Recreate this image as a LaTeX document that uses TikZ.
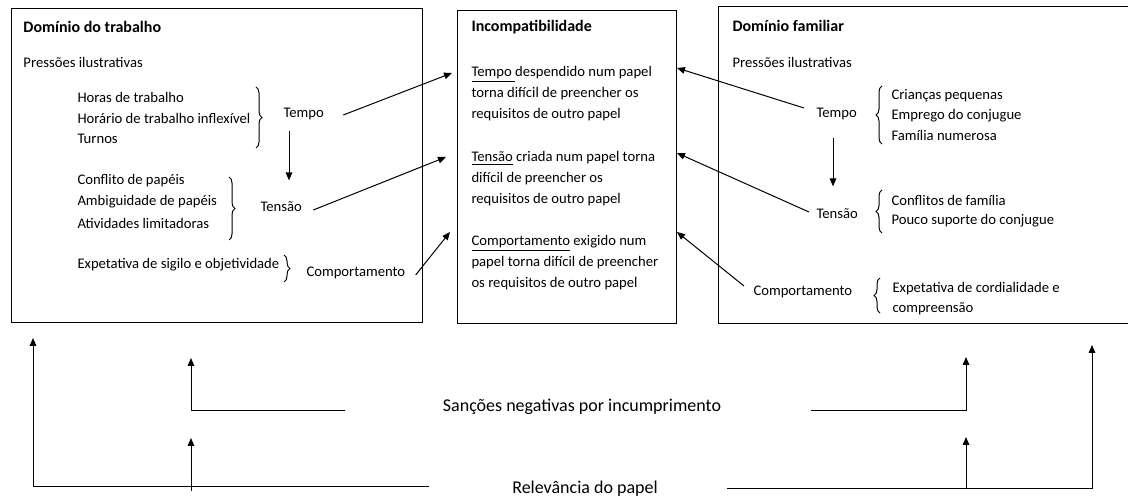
\documentclass[tikz,border=0pt]{standalone}
\usepackage{fontspec}
\setmainfont{Carlito}
\usetikzlibrary{arrows.meta,decorations.pathreplacing,calc}

\tikzset{every picture/.style={line width=0.75pt}}
\tikzset{
  arr/.style={-{Triangle[length=6pt,width=5pt]}},
  brcR/.style={decorate,decoration={brace,amplitude=4.5pt}},
  txt/.style={anchor=west,inner sep=0.75pt,align=left,font=\fontsize{11}{15.75}\selectfont},
  ttl/.style={anchor=west,inner sep=0.75pt,font=\fontsize{12}{14}\selectfont\bfseries},
  big/.style={inner sep=0.75pt,font=\fontsize{13.5}{16}\selectfont},
}

\begin{document}
\begin{tikzpicture}[x=0.75pt,y=0.75pt,yscale=-1,xscale=1]
\useasboundingbox (0,0) rectangle (1128,498);

%Shape: Rectangle
\draw (11,9) rectangle (422,323);
%Shape: Rectangle
\draw (457,11) rectangle (676,324);
%Shape: Rectangle (cut at the right edge)
\draw (1128,7) -- (718,7) -- (718,324) -- (1128,324);

% Text Node
\draw (22,27) node [ttl] (wTitle) {Domínio do trabalho};
\draw (22,62) node [txt] (wPres) {Pressões ilustrativas};
\draw (76,97) node [txt] (wHoras) {Horas de trabalho};
\draw (76,118) node [txt] (wHorario) {Horário de trabalho inflexível};
\draw (76,139) node [txt] (wTurnos) {Turnos};
\draw (282,114) node [txt] (wTempo) {Tempo};
\draw (76,181) node [txt] (wConfl) {Conflito de papéis};
\draw (76,202) node [txt] (wAmbig) {Ambiguidade de papéis};
\draw (76,223) node [txt] (wAtiv) {Atividades limitadoras};
\draw (259,207) node [txt] (wTensao) {Tensão};
\draw (76,265) node [txt] (wSigilo) {Expetativa de sigilo e objetividade};
\draw (305,273) node [txt] (wComp) {Comportamento};

% Text Node
\draw (470,27) node [ttl] (iTitle) {Incompatibilidade};
\draw (470,94) node [txt] (iTempo) {\underline{Tempo\ }despendido num papel\\torna difícil de preencher os\\requisitos de outro papel};
\draw (470,179) node [txt] (iTensao) {\underline{Tensão} criada num papel torna\\difícil de preencher os\\requisitos de outro papel};
\draw (470,263) node [txt] (iComp) {\underline{Comportamento} exigido num\\papel torna difícil de preencher\\os requisitos de outro papel};

% Text Node
\draw (731,26) node [ttl] (fTitle) {Domínio familiar};
\draw (731,62) node [txt] (fPres) {Pressões ilustrativas};
\draw (815,114) node [txt] (fTempo) {Tempo};
\draw (890,96) node [txt] (fCriancas) {Crianças pequenas};
\draw (890,116) node [txt] (fEmprego) {Emprego do conjugue};
\draw (890,135) node [txt] (fFamilia) {Família numerosa};
\draw (815,214) node [txt] (fTensao) {Tensão};
\draw (890,200) node [txt] (fConfl) {Conflitos de família};
\draw (890,221) node [txt] (fSuporte) {Pouco suporte do conjugue};
\draw (752,292) node [txt] (fComp) {Comportamento};
\draw (891,289) node [txt] (fCordial) {Expetativa de cordialidade e};
\draw (891,309) node [txt] (fCompr) {compreensão};

% Text Node
\draw (582,407) node [big] (sanc) {Sanções negativas por incumprimento};
\draw (585,489) node [big] (relev) {Relevância do papel};

%Braces
\draw [brcR] (256,87) -- (256,148);
\draw [brcR] (229,177) -- (229,240);
\draw [brcR] (284,255) -- (284,282);
\draw [brcR] (882,144) -- (882,86);
\draw [brcR] (882,233) -- (882,190);
\draw [brcR] (880,313) -- (880,278);

%Arrow ends on the middle box
\coordinate (iTempoL) at (452,73);
\coordinate (iTensaoL) at (446,157);
\coordinate (iCompL) at (450,232);
\coordinate (iTempoR) at (677,68);
\coordinate (iTensaoR) at (677,153);
\coordinate (iCompR) at (677,232);

%Straight Lines
\draw [arr] ($(wTempo.east)+(18,1)$) -- (iTempoL);
\draw [arr] ($(wTensao.east)+(10,3)$) -- (iTensaoL);
\draw [arr] ($(wComp.east)+(9,2)$) -- (iCompL);
\draw [arr] ($(fTempo.west)+(-11,-6)$) -- (iTempoR);
\draw [arr] ($(fTensao.west)+(-6,-2)$) -- (iTensaoR);
\draw [arr] ($(fComp.west)+(-8,-6)$) -- (iCompR);

%Straight Lines
\draw [arr] ($(wTempo.south west)+(7,10)$) -- ++(0,49);
\draw [arr] ($(fTempo.south west)+(18,17)$) -- ++(0,48);

%Bottom connectors
\coordinate (sLtip) at (191,358);
\coordinate (sRtip) at (966,357);
\coordinate (rLtip) at (33,338);
\coordinate (rRtip) at (1092,345);
\coordinate (rLin) at (191,491);
\coordinate (rRin) at (966,489);

\draw [arr] ([xshift=-72pt,yshift=3pt]sanc.west) -| (sLtip);
\draw [arr] ([xshift=66pt,yshift=3pt]sanc.east) -| (sRtip);
\draw [arr] ([xshift=-61.5pt,yshift=-1.5pt]relev.west) -| (rLtip);
\draw [arr] ([xshift=51pt]relev.east) -| (rRtip);
\draw [arr] (rLin) -- ++(0,-53);
\draw [arr] (rRin) -- ++(0,-52);

\end{tikzpicture}
\end{document}
